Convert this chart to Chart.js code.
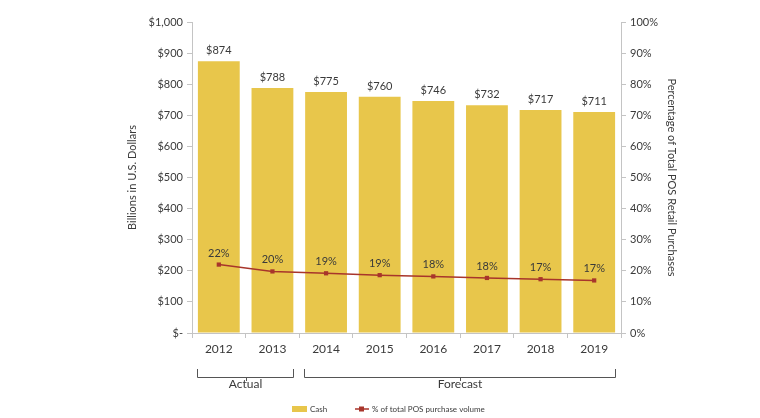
<!DOCTYPE html>
<html>
<head>
<meta charset="utf-8">
<script src="https://cdn.jsdelivr.net/npm/chart.js@4"></script>
<style>
    html, body { margin: 0; padding: 0; background: #fff; }
    #wrap { width: 760px; height: 418px; }
</style>
</head>
<body>
<div id="wrap"><canvas id="chartCanvas" width="760" height="418"></canvas></div>
<script>
const years = ["2012", "2013", "2014", "2015", "2016", "2017", "2018", "2019"];
const cashValues = [874, 788, 775, 760, 746, 732, 717, 711];
const shareValues = [22.0, 19.8, 19.2, 18.6, 18.2, 17.7, 17.3, 16.9];
const shareLabels = ["22%", "20%", "19%", "19%", "18%", "18%", "17%", "17%"];
const periods = [
    { label: "Actual", from: 0, to: 1 },
    { label: "Forecast", from: 2, to: 7 }
];

const barColor = "#E8C64B";
const lineColor = "#A8352B";
const textColor = "#3a3a3a";
const axisColor = "#c4c4c4";
const fontFamily = "Lato, 'Open Sans', sans-serif";

// value labels, period brackets and legend
const extras = {
    id: "extras",
    afterDatasetsDraw(chart) {
        const ctx = chart.ctx;
        const xs = chart.scales.x;
        const bars = chart.getDatasetMeta(1).data;
        const points = chart.getDatasetMeta(0).data;
        ctx.save();
        ctx.fillStyle = textColor;
        ctx.font = "11px " + fontFamily;
        ctx.textAlign = "center";
        ctx.textBaseline = "bottom";

        bars.forEach((bar, i) => {
            ctx.fillText("$" + cashValues[i], bar.x, bar.y - 5);
        });
        points.forEach((pt, i) => {
            ctx.fillText(shareLabels[i], pt.x, pt.y - 6);
        });

        // brackets
        const half = bars[0].width / 2;
        const top = 369, mid = 377;
        ctx.strokeStyle = "#555";
        ctx.lineWidth = 1;
        ctx.textBaseline = "middle";
        ctx.font = "12px " + fontFamily;
        periods.forEach(p => {
            const x0 = Math.round(xs.getPixelForValue(p.from) - half - 1);
            const x1 = Math.round(xs.getPixelForValue(p.to) + half + 1);
            const xc = (x0 + x1) / 2;
            ctx.beginPath();
            ctx.moveTo(x0 + 0.5, top);
            ctx.lineTo(x0 + 0.5, mid + 0.5);
            ctx.lineTo(x1 - 0.5, mid + 0.5);
            ctx.lineTo(x1 - 0.5, top);
            ctx.moveTo(Math.round(xc) + 0.5, mid);
            ctx.lineTo(Math.round(xc) + 0.5, mid + 4);
            ctx.stroke();
            ctx.fillText(p.label, xc, 384);
        });

        // legend
        const ly = 409;
        ctx.font = "8px " + fontFamily;
        ctx.textAlign = "left";
        ctx.fillStyle = barColor;
        ctx.fillRect(292, ly - 3, 15, 6);
        ctx.fillStyle = textColor;
        ctx.fillText("Cash", 310, ly);
        ctx.strokeStyle = lineColor;
        ctx.lineWidth = 1.5;
        ctx.beginPath();
        ctx.moveTo(355, ly);
        ctx.lineTo(369, ly);
        ctx.stroke();
        ctx.fillStyle = lineColor;
        ctx.fillRect(359, ly - 2.5, 5, 5);
        ctx.fillStyle = textColor;
        ctx.fillText("% of total POS purchase volume", 372, ly);
        ctx.restore();
    }
};

const ctx = document.getElementById("chartCanvas").getContext("2d");

new Chart(ctx, {
    data: {
        labels: years,
        datasets: [
            {
                type: "line",
                label: "% of total POS purchase volume",
                data: shareValues,
                yAxisID: "y1",
                borderColor: lineColor,
                backgroundColor: lineColor,
                borderWidth: 1.5,
                pointStyle: "rect",
                pointRadius: 3,
                pointBorderWidth: 0,
                tension: 0,
                order: 0
            },
            {
                type: "bar",
                label: "Cash",
                data: cashValues,
                yAxisID: "y",
                backgroundColor: barColor,
                categoryPercentage: 1,
                barPercentage: 0.78,
                order: 1
            }
        ]
    },
    options: {
        responsive: false,
        animation: false,
        devicePixelRatio: 1,
        layout: { padding: { left: 126, right: 82, top: 22, bottom: 0 } },
        plugins: {
            legend: { display: false },
            tooltip: { enabled: false }
        },
        scales: {
            x: {
                offset: true,
                grid: { offset: true, drawOnChartArea: false, color: axisColor, tickLength: 5 },
                border: { color: axisColor },
                ticks: { color: textColor, font: { family: fontFamily, size: 12 }, padding: 4 },
                afterFit(scale) { scale.height = 85; }
            },
            y: {
                position: "left",
                min: 0,
                max: 1000,
                grid: { drawOnChartArea: false, color: axisColor, tickLength: 5 },
                border: { color: axisColor },
                ticks: {
                    stepSize: 100,
                    color: textColor,
                    font: { family: fontFamily, size: 11 },
                    padding: 4,
                    callback: v => v === 0 ? "$-" : "$" + v.toLocaleString("en-US")
                },
                title: {
                    display: true,
                    text: "Billions in U.S. Dollars",
                    color: textColor,
                    font: { family: fontFamily, size: 11 },
                    padding: 0
                },
                afterFit(scale) { scale.width = 66; }
            },
            y1: {
                position: "right",
                min: 0,
                max: 100,
                grid: { drawOnChartArea: false, color: axisColor, tickLength: 5 },
                border: { color: axisColor },
                ticks: {
                    stepSize: 10,
                    color: textColor,
                    font: { family: fontFamily, size: 11 },
                    padding: 4,
                    callback: v => v + "%"
                },
                title: {
                    display: true,
                    text: "Percentage of Total POS Retail Purchases",
                    color: textColor,
                    font: { family: fontFamily, size: 11 },
                    padding: 0
                },
                afterFit(scale) { scale.width = 57; }
            }
        }
    },
    plugins: [extras]
});
</script>
</body>
</html>
